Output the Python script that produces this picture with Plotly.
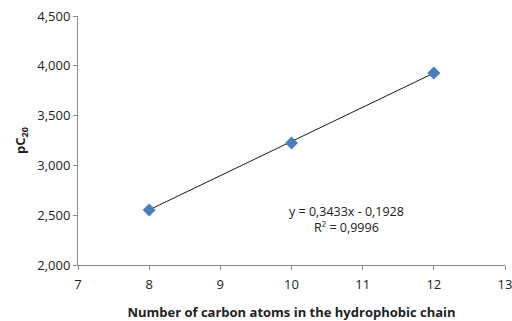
import plotly.graph_objects as go

carbon_atoms = [8, 10, 12]
pc20 = [2.552, 3.226, 3.928]
slope = 0.3433
intercept = -0.1928
r2 = 0.9996
x_ticks = [7, 8, 9, 10, 11, 12, 13]
y_ticks = [2.0, 2.5, 3.0, 3.5, 4.0, 4.5]

trend_x = [min(carbon_atoms), max(carbon_atoms)]
trend_y = [slope * v + intercept for v in trend_x]

def comma(v):
    return f"{v:.4f}".replace(".", ",")

eq_text = f"y = {comma(slope)}x - {comma(-intercept)}<br>R² = {comma(r2)}"

fig = go.Figure()
fig.add_trace(go.Scatter(x=trend_x, y=trend_y, mode="lines",
                         line=dict(color="#1a1a1a", width=1), showlegend=False))
fig.add_trace(go.Scatter(x=carbon_atoms, y=pc20, mode="markers",
                         marker=dict(symbol="diamond", size=10, color="#4a7ebb",
                                     line=dict(width=0)), showlegend=False))

fig.add_annotation(x=10.77, y=2.457, xref="x", yref="y", text=eq_text,
                   showarrow=False, align="center",
                   font=dict(family="Open Sans", size=12.5, color="#222"))

fig.update_layout(
    width=512, height=321,
    margin=dict(l=78, r=7, t=16, b=56),
    plot_bgcolor="white", paper_bgcolor="white",
    separators=", ",
    font=dict(family="Open Sans", size=13, color="#222"),
    xaxis=dict(range=[7, 13], tickvals=x_ticks, showgrid=False, zeroline=False,
               showline=True, linecolor="#888", linewidth=1, automargin=False,
               ticks="outside", ticklen=4, tickcolor="#888", ticklabelstandoff=3,
               ticklabeloverflow="allow",
               title=dict(text="<b>Number of carbon atoms in the hydrophobic chain</b>",
                          font=dict(size=13), standoff=16)),
    yaxis=dict(range=[2.0, 4.5], tickvals=y_ticks, tickformat=".3f", showgrid=False,
               zeroline=False, showline=True, linecolor="#888", linewidth=1,
               automargin=False, ticklabeloverflow="allow",
               ticks="outside", ticklen=4, tickcolor="#888",
               title=dict(text="<b>pC<sub>20</sub></b>", font=dict(size=13), standoff=8)),
)

fig.write_html("out.html", config={"displayModeBar": False},
               post_script="document.body.style.margin='0';document.body.style.overflow='hidden';")
